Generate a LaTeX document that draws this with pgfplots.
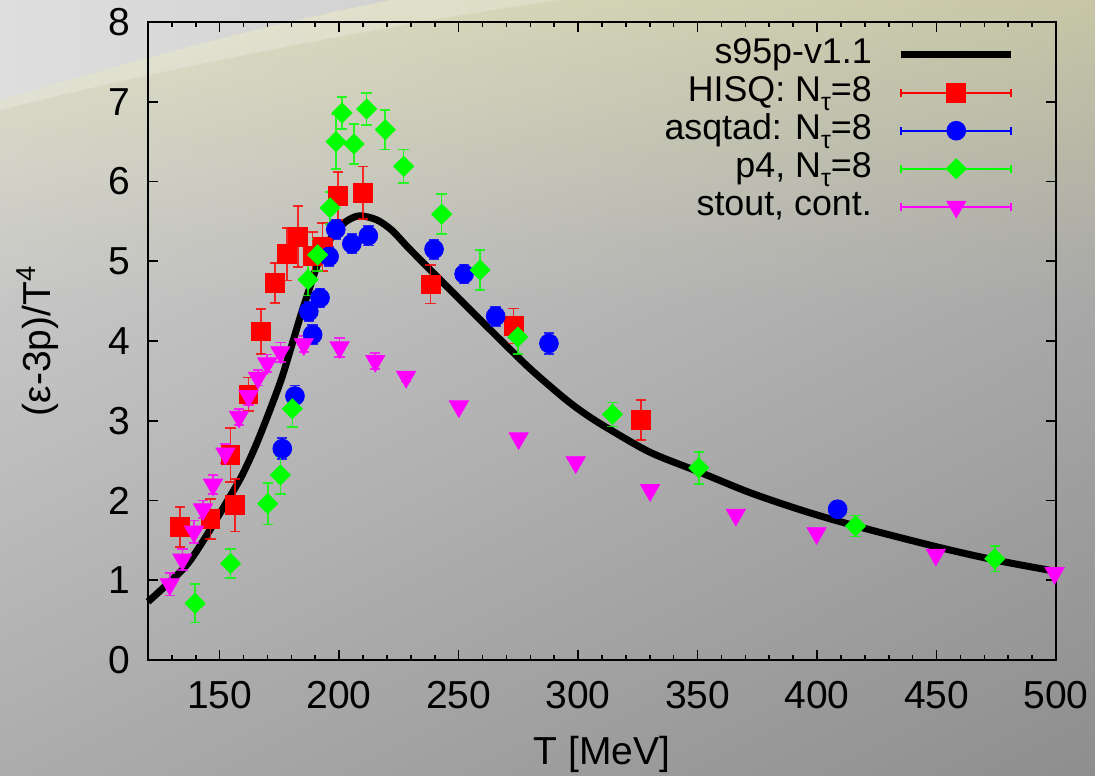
\documentclass[border=0pt]{standalone}
\usepackage{pgfplots}
\pgfplotsset{compat=1.18}
\usetikzlibrary{shadings}
\usepackage{fontspec}
\setmainfont{Liberation Sans}

\definecolor{bgUL}{RGB}{226,226,200}
\definecolor{bgUR}{RGB}{198,198,166}
\definecolor{bgML}{RGB}{198,198,198}
\definecolor{bgMR}{RGB}{168,168,168}
\definecolor{bgLL}{RGB}{172,172,172}
\definecolor{bgLR}{RGB}{142,142,142}
\definecolor{swA}{RGB}{222,222,222}
\definecolor{swB}{RGB}{210,210,210}
\definecolor{cHISQ}{RGB}{255,0,0}
\definecolor{cASQ}{RGB}{0,0,255}
\definecolor{cP4}{RGB}{0,255,0}
\definecolor{cST}{RGB}{255,0,255}

\newcommand{\Nt}{N\raisebox{-4.5pt}{\fontsize{12.5}{13}\selectfont τ}}

\pgfplotsset{
  errleg/.style={legend image code/.code={
    \draw[line width=0.8pt] (0pt,0pt) -- (55pt,0pt) (0pt,-2pt) -- (0pt,2pt) (55pt,-2pt) -- (55pt,2pt);
    \draw[mark repeat=2,mark phase=2] plot coordinates {(0pt,0pt) (27.5pt,0pt) (55pt,0pt)};
  }},
  databar/.style={only marks, error bars/.cd, y dir=both, y explicit,
    error bar style={line width=0.8pt, opacity=0.8},
    error mark options={rotate=90, mark size=2.6pt, line width=0.8pt, opacity=0.8}},
}

\begin{document}
\begin{tikzpicture}[x=1pt,y=1pt]
% 1 px of the reference = 0.5pt ; axis box south west at (0,0)
\useasboundingbox (-74,-57.5) rectangle (473.5,330);
\shade[upper left=bgUL, upper right=bgUR, lower left=bgML, lower right=bgMR] (-74,180) rectangle (473.5,330);
\shade[upper left=bgML, upper right=bgMR, lower left=bgLL, lower right=bgLR] (-74,-57.5) rectangle (473.5,180.2);
% light band of the swoosh
\fill[white, opacity=0.22] (-74,280) .. controls (-20,296) and (50,316) .. (121,330) -- (206,330) .. controls (120,318) and (0,294) .. (-74,275) -- cycle;
% gray region above swoosh
\shade[left color=swA, right color=swB] (-74,330) -- (-74,280) .. controls (-20,296) and (50,316) .. (121,330) -- cycle;

\begin{axis}[
  at={(0,0)}, anchor=south west,
  scale only axis, width=454pt, height=319pt,
  xmin=120, xmax=500, ymin=0, ymax=8,
  xtick={150,200,...,500}, minor xtick={120,130,...,500},
  ytick={0,1,...,8},
  tick align=inside,
  major tick length=4.8pt, minor tick length=2.3pt,
  axis line style={line width=1pt},
  every tick/.style={black, line width=0.8pt},
  /pgf/number format/assume math mode=true,
  ticklabel style={font=\fontsize{19.5}{23}\selectfont},
  xticklabel style={yshift=-7pt},
  yticklabel style={xshift=-5.5pt},
  xlabel={T [MeV]},
  ylabel={(ε-3p)/T\textsuperscript{4}},
  every axis x label/.style={at={(axis description cs:0.5,0)}, yshift=-47pt, anchor=center, font=\fontsize{19.5}{23}\selectfont},
  every axis y label/.style={at={(axis description cs:0,0.5)}, xshift=-55pt, anchor=center, rotate=90, font=\fontsize{19.5}{23}\selectfont},
  clip=false,
  legend cell align=right,
  legend plot pos=right,
  legend style={draw=none, fill=none, at={(axis description cs:0.955,0.976)}, anchor=north east,
    font=\fontsize{17.9}{20}\selectfont, inner sep=0pt, column sep=13pt, row sep=2pt,
    nodes={inner sep=0pt, text height=13pt, text depth=4pt}},
]

\addplot[black, line width=3.5pt, smooth,
  legend image code/.code={\draw[line width=3.5pt] (0pt,0pt) -- (55pt,0pt);}]
coordinates {
(120,0.73) (128.4,0.96) (136.7,1.21) (145.1,1.59) (153.5,2.01) (159.1,2.30)
(164.7,2.66) (170.2,3.07) (175.8,3.52) (180.0,3.93) (184.0,4.33) (187.5,4.65)
(190.6,4.93) (195.0,5.22) (200.4,5.43) (204.0,5.52) (208.7,5.57) (215.7,5.52)
(222.0,5.39) (228.3,5.19) (235.0,4.985) (242.2,4.77) (249.0,4.565) (256.2,4.35)
(267.3,4.02) (280.0,3.65) (294.3,3.28) (303.0,3.085) (312.2,2.91) (330.1,2.605) (350.5,2.36)
(372.0,2.098) (394.4,1.87) (416.1,1.681) (449.7,1.422) (474.4,1.254) (500.0,1.111)
};
\addlegendentry{s95p-v1.1}

\addplot[cHISQ, errleg, mark=square*, mark size=4.7pt, databar] table[x=x, y=y, y error=e] {
x y e
133.5 1.67 0.25
146.1 1.77 0.25
154.5 2.57 0.34
156.5 1.94 0.33
162.0 3.33 0.21
167.4 4.12 0.28
173.2 4.73 0.25
178.1 5.09 0.33
182.7 5.31 0.38
188.8 5.07 0.30
193.1 5.18 0.30
199.4 5.82 0.30
210.1 5.86 0.33
238.3 4.71 0.24
273.0 4.19 0.22
326.4 3.01 0.25
};
\addlegendentry{HISQ: \Nt=8}

\addplot[cASQ, errleg, mark=*, mark size=4.7pt, databar] table[x=x, y=y, y error=e] {
x y e
176.2 2.65 0.13
181.5 3.31 0.13
187.3 4.37 0.12
188.9 4.08 0.12
192.0 4.54 0.12
195.8 5.06 0.12
198.6 5.40 0.12
205.3 5.22 0.12
212.2 5.32 0.12
239.7 5.15 0.12
252.3 4.84 0.12
265.5 4.31 0.12
287.8 3.97 0.13
408.6 1.89 0.05
};
\addlegendentry{asqtad: \Nt=8}

\addplot[cP4, errleg, mark=diamond*, mark size=5pt, mark options={xscale=1.333}, databar] table[x=x, y=y, y error=e] {
x y e
139.7 0.71 0.24
154.6 1.21 0.18
170.1 1.96 0.26
175.4 2.32 0.24
180.4 3.15 0.23
187.0 4.77 0.20
191.0 5.08 0.20
196.2 5.67 0.20
198.7 6.50 0.34
201.2 6.86 0.20
206.2 6.47 0.25
211.5 6.91 0.20
219.3 6.65 0.25
227.0 6.19 0.21
242.9 5.59 0.25
259.0 4.89 0.25
274.8 4.05 0.21
314.4 3.08 0.15
350.5 2.41 0.20
416.1 1.68 0.13
474.4 1.27 0.16
};
\addlegendentry{p4, \Nt=8}

\addplot[cST, errleg, mark=triangle*, mark size=5.5pt, mark options={rotate=180}, databar] table[x=x, y=y, y error=e] {
x y e
129.1 0.95 0.14
134.4 1.26 0.13
139.3 1.61 0.14
143.0 1.89 0.11
147.2 2.20 0.12
152.4 2.59 0.12
158.1 3.05 0.10
162.1 3.31 0.11
166.0 3.54 0.10
169.9 3.72 0.11
175.4 3.86 0.12
185.2 3.96 0.10
200.2 3.92 0.12
215.1 3.75 0.10
228.0 3.55 0.06
250.1 3.18 0.03
275.1 2.78 0.03
299.0 2.48 0.03
330.1 2.13 0.02
366.0 1.82 0.02
399.8 1.59 0.02
449.7 1.32 0.02
499.4 1.09 0.02
};
\addlegendentry{stout, cont.}

\end{axis}
\end{tikzpicture}
\end{document}
